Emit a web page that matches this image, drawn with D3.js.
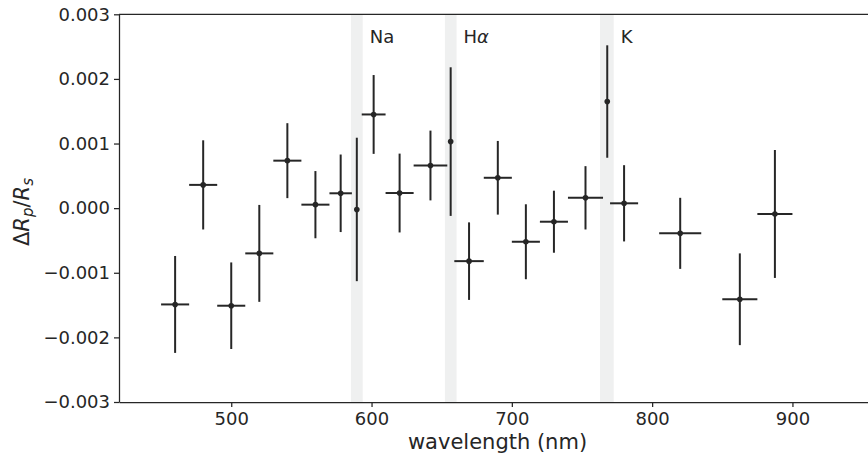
<!DOCTYPE html>
<html>
<head>
<meta charset="utf-8">
<script src="https://cdn.jsdelivr.net/npm/d3@7"></script>
<style>
  body { margin: 0; background: #fff; }
  svg { display: block; font-family: "DejaVu Sans", sans-serif; }
</style>
</head>
<body>
<div id="chart"></div>
<script>
// transit depth per spectral bin
const wavelength = [460, 480, 500, 520, 540, 560, 578, 589.5, 601.5, 620, 642, 656.4, 669.5, 690, 710, 730, 752.5, 768, 780, 820, 862.5, 887.5];
const binHalfWidth = [10, 10, 10, 10, 10, 10, 8, 0, 8.5, 10, 12, 0, 10.5, 10, 10, 10, 12.5, 0, 10, 15, 12.5, 12.5];
const deltaR = [-0.00149, 0.00036, -0.00151, -0.00070, 0.000735, 0.000054, 0.00023, -0.00002, 0.00145, 0.000234, 0.00066, 0.00103, -0.00082, 0.00047, -0.00052, -0.00021, 0.00016, 0.00165, 0.000075, -0.00039, -0.00141, -0.00009];
const deltaRErr = [0.00075, 0.00069, 0.00067, 0.00075, 0.00058, 0.00052, 0.0006, 0.00111, 0.00061, 0.00061, 0.00054, 0.00115, 0.0006, 0.00057, 0.00058, 0.00048, 0.00049, 0.00087, 0.00059, 0.00055, 0.00071, 0.00099];

// line regions that are shaded (name, italic part)
const lineNames = ["Na", "H", "K"];
const lineGreek = ["", "\u03b1", ""];
const lineStart = [585.3, 652.3, 762.8];
const lineEnd = [593.7, 660.6, 772.6];

const xTicks = [500, 600, 700, 800, 900];
const yTicks = [-0.003, -0.002, -0.001, 0, 0.001, 0.002, 0.003];

const width = 868, height = 458;
const plotLeft = 119, plotTop = 14.3, plotBottom = 402;
const ink = "#262626";

const svg = d3.select("#chart").append("svg")
    .attr("width", width)
    .attr("height", height);

const x = d3.scaleLinear().domain([420, 955]).range([plotLeft, plotLeft + 535 * 1.403]);
const y = d3.scaleLinear().domain([-0.003, 0.003]).range([plotBottom, plotTop]);

// shaded bands
svg.append("g")
    .selectAll("rect")
    .data(lineNames)
    .join("rect")
    .attr("x", (d, i) => x(lineStart[i]))
    .attr("width", (d, i) => x(lineEnd[i]) - x(lineStart[i]))
    .attr("y", plotTop)
    .attr("height", plotBottom - plotTop)
    .attr("fill", "#eff0f0");

// labels next to the bands
const labels = svg.append("g")
    .selectAll("text")
    .data(lineNames)
    .join("text")
    .attr("x", (d, i) => x(lineEnd[i]) + 7)
    .attr("y", 43.3)
    .attr("font-size", 18)
    .attr("fill", ink);
labels.append("tspan").text(d => d);
labels.append("tspan").attr("font-style", "italic").text((d, i) => lineGreek[i]);

// error bars
const pts = svg.append("g")
    .selectAll("g")
    .data(wavelength.map((w, i) => i))
    .join("g");

pts.append("line")
    .attr("x1", i => x(wavelength[i])).attr("x2", i => x(wavelength[i]))
    .attr("y1", i => y(deltaR[i] + deltaRErr[i]))
    .attr("y2", i => y(deltaR[i] - deltaRErr[i]))
    .attr("stroke", ink)
    .attr("stroke-width", 2);

pts.filter(i => binHalfWidth[i] > 0)
    .append("line")
    .attr("x1", i => x(wavelength[i] - binHalfWidth[i]))
    .attr("x2", i => x(wavelength[i] + binHalfWidth[i]))
    .attr("y1", i => y(deltaR[i]))
    .attr("y2", i => y(deltaR[i]))
    .attr("stroke", ink)
    .attr("stroke-width", 2);

pts.append("circle")
    .attr("cx", i => x(wavelength[i]))
    .attr("cy", i => y(deltaR[i]))
    .attr("r", 2.8)
    .attr("fill", ink);

// axes
const xAxis = svg.append("g")
    .attr("transform", `translate(0,${plotBottom})`)
    .call(d3.axisBottom(x).tickValues(xTicks).tickSize(5).tickPadding(5).tickSizeOuter(0));

const yAxis = svg.append("g")
    .attr("transform", `translate(${plotLeft},0)`)
    .call(d3.axisLeft(y).tickValues(yTicks).tickSize(5).tickPadding(4).tickSizeOuter(0)
        .tickFormat(d => d3.format(".3f")(d).replace("-", "\u2212")));

[xAxis, yAxis].forEach(a => {
    a.selectAll("path, line").attr("stroke", ink).attr("stroke-width", 1.25);
    a.selectAll("text").attr("font-size", 18).attr("fill", ink)
        .attr("font-family", "DejaVu Sans, sans-serif");
});

// top spine
svg.append("line")
    .attr("x1", plotLeft).attr("x2", width)
    .attr("y1", plotTop).attr("y2", plotTop)
    .attr("stroke", ink).attr("stroke-width", 1.25);

// axis titles
svg.append("text")
    .attr("x", 497.5)
    .attr("y", 449)
    .attr("text-anchor", "middle")
    .attr("font-size", 21)
    .attr("fill", ink)
    .text("wavelength (nm)");

const yl = svg.append("text")
    .attr("transform", "translate(29,212) rotate(-90)")
    .attr("text-anchor", "middle")
    .attr("font-size", 21)
    .attr("fill", ink);
yl.append("tspan").text("\u0394");
yl.append("tspan").attr("font-style", "italic").text("R");
yl.append("tspan").attr("font-style", "italic").attr("font-size", 15).attr("dy", 4).text("p");
yl.append("tspan").attr("dy", -4).text("/");
yl.append("tspan").attr("font-style", "italic").text("R");
yl.append("tspan").attr("font-style", "italic").attr("font-size", 15).attr("dy", 4).text("s");
</script>
</body>
</html>
